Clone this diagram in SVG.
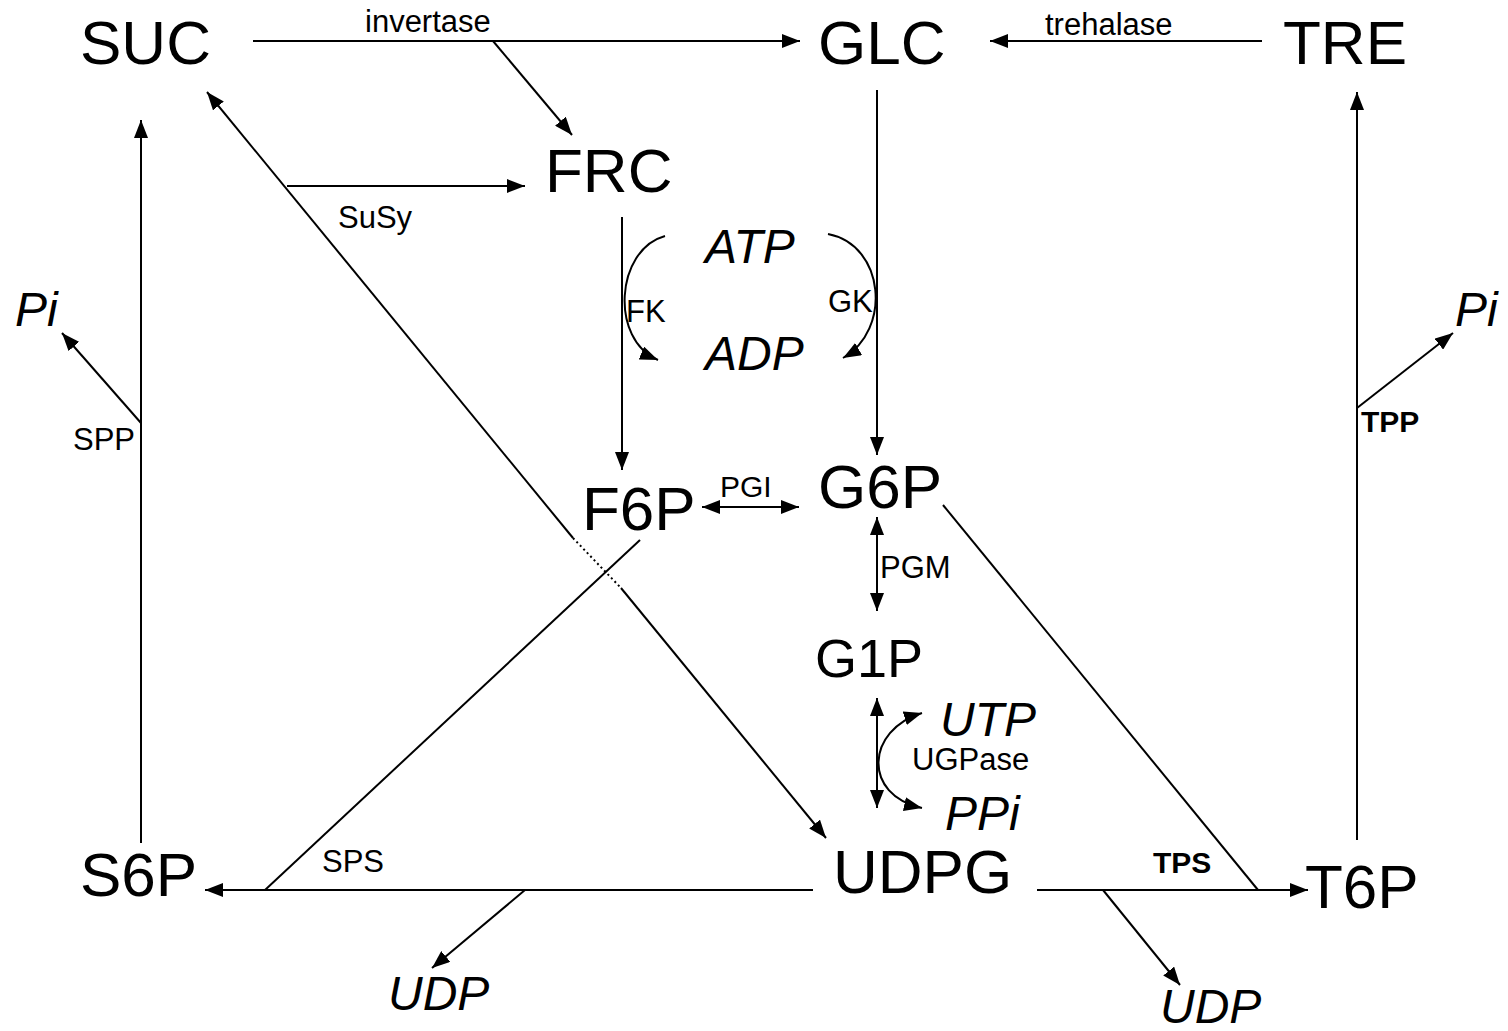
<svg xmlns="http://www.w3.org/2000/svg" width="1508" height="1031" viewBox="0 0 1508 1031">
<style>
text{font-family:"Liberation Sans",Arial,sans-serif;fill:#000}
.big{font-size:62px}
.mid{font-size:48px;font-style:italic}
.sm{font-size:31px}
.bd{font-size:30px;font-weight:bold}
.c{fill:none;stroke:#000;stroke-width:2}
.a{marker-end:url(#ah)}
.d{marker-start:url(#ah);marker-end:url(#ah)}
</style>
<defs>
<marker id="ah" markerUnits="userSpaceOnUse" markerWidth="18" markerHeight="14" refX="18" refY="7" orient="auto-start-reverse">
<path d="M0,0 L18,7 L0,14 z" fill="#000"/>
</marker>
</defs>
<rect width="1508" height="1031" fill="#fff"/>
<g id="connectors">
<path class="c a" d="M253,41 H800"/>
<path class="c a" d="M493,41 L572,135"/>
<path class="c a" d="M1262,41 H990"/>
<path class="c a" d="M573,538 L207,92"/>
<path class="c" d="M573,538 L621,588" stroke-dasharray="2,3" stroke-width="1"/>
<path class="c a" d="M621,588 L826,838"/>
<path class="c a" d="M287,186 H525"/>
<path class="c a" d="M141,843 V120"/>
<path class="c a" d="M141,423 L62,333"/>
<path class="c a" d="M622,217 V470"/>
<path class="c a" d="M877,90 V455"/>
<path class="c a" d="M665,236 C615,250 610,340 658,360"/>
<path class="c a" d="M828,234 C885,245 892,330 843,358"/>
<path class="c d" d="M702,507 H799"/>
<path class="c d" d="M877,517 V611"/>
<path class="c d" d="M877,698 V808"/>
<path class="c d" d="M922,713 C866,730 862,795 922,808"/>
<path class="c" d="M640,540 L265,890"/>
<path class="c a" d="M813,890 H205"/>
<path class="c a" d="M525,890 L432,968"/>
<path class="c a" d="M1037,890 H1308"/>
<path class="c" d="M943,505 L1258,890"/>
<path class="c a" d="M1103,890 L1180,985"/>
<path class="c a" d="M1357,840 V92"/>
<path class="c a" d="M1357,408 L1453,333"/>
</g>
<g id="labels">
<text class="sm" x="365" y="32">invertase</text>
<text class="sm" x="1045" y="35">trehalase</text>
<text class="sm" x="338" y="228">SuSy</text>
<text class="sm" x="626" y="322">FK</text>
<text class="sm" x="828" y="312">GK</text>
<text class="sm" x="720" y="497" style="font-size:30px">PGI</text>
<text class="sm" x="880" y="578">PGM</text>
<text class="sm" x="912" y="770">UGPase</text>
<text class="sm" x="73" y="450">SPP</text>
<text class="sm" x="322" y="872">SPS</text>
<text class="bd" x="1153" y="873">TPS</text>
<text class="bd" x="1361" y="432">TPP</text>
</g>
<g id="SUC"><text class="big" x="80" y="64">SUC</text></g>
<g id="GLC"><text class="big" x="818" y="64">GLC</text></g>
<g id="TRE"><text class="big" x="1283" y="64">TRE</text></g>
<g id="FRC"><text class="big" x="545" y="192">FRC</text></g>
<g id="F6P"><text class="big" x="582" y="530">F6P</text></g>
<g id="G6P"><text class="big" x="818" y="508">G6P</text></g>
<g id="G1P"><text class="big" x="815" y="677" style="font-size:54px">G1P</text></g>
<g id="S6P"><text class="big" x="80" y="896">S6P</text></g>
<g id="UDPG"><text class="big" x="833" y="893">UDPG</text></g>
<g id="T6P"><text class="big" x="1305" y="908">T6P</text></g>
<g id="ATP"><text class="mid" x="705" y="263">ATP</text></g>
<g id="ADP"><text class="mid" x="705" y="370">ADP</text></g>
<g id="Pi_left"><text class="mid" x="15" y="326">Pi</text></g>
<g id="Pi_right"><text class="mid" x="1455" y="326">Pi</text></g>
<g id="UTP"><text class="mid" x="940" y="736">UTP</text></g>
<g id="PPi"><text class="mid" x="945" y="830">PPi</text></g>
<g id="UDP_left"><text class="mid" x="388" y="1010">UDP</text></g>
<g id="UDP_right"><text class="mid" x="1160" y="1023">UDP</text></g>
</svg>
